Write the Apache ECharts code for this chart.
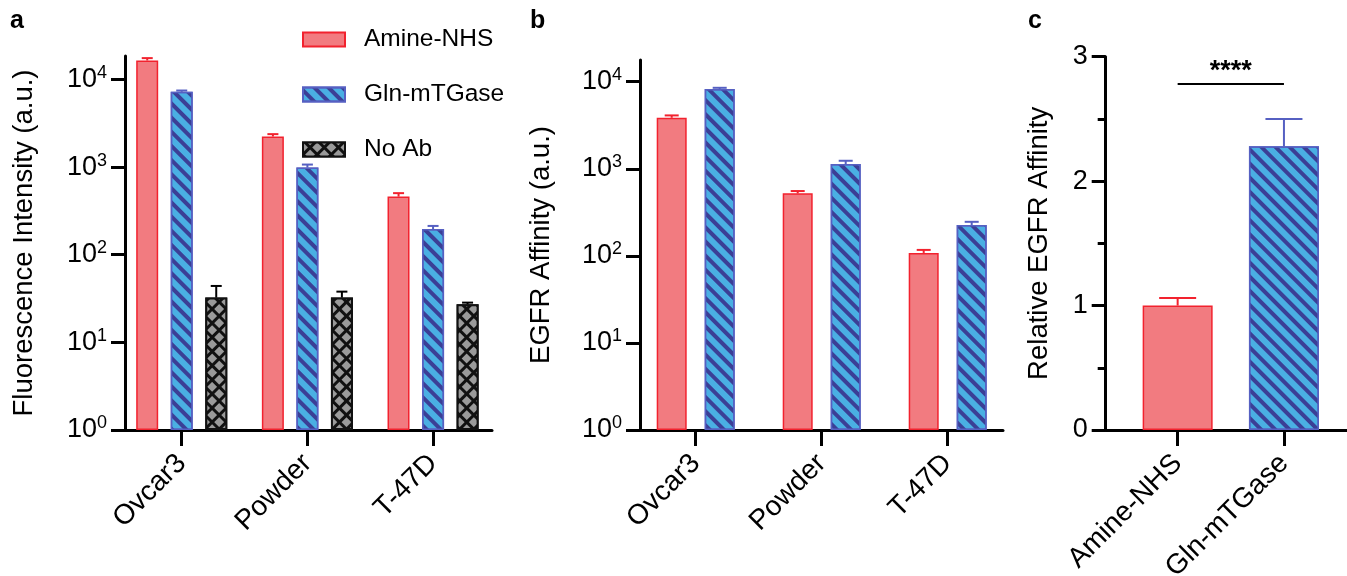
<!DOCTYPE html>
<html>
<head>
<meta charset="utf-8">
<script src="https://cdn.jsdelivr.net/npm/echarts@6/dist/echarts.min.js"></script>
<style>
    html, body { margin: 0; padding: 0; background: #fff; }
    #chart { width: 1347px; height: 576px; }
</style>
</head>
<body>
<div id="chart"></div>
<script>
// 数据
const cellLines = ['Ovcar3', 'Powder', 'T-47D'];
const logTicks = [1, 10, 100, 1000, 10000];

// a: Fluorescence Intensity
const fluorAmine = [16440, 2230, 460];
const fluorAmineErr = [1060, 145, 44];
const fluorGln = [7220, 986, 196];
const fluorGlnErr = [250, 82, 17];
const fluorNoAb = [32.4, 32.4, 27.2];
const fluorNoAbErr = [11.6, 5.5, 1.2];

// b: EGFR Affinity
const egfrAmine = [3850, 522, 108];
const egfrAmineErr = [250, 33, 9];
const egfrGln = [8220, 1132, 226];
const egfrGlnErr = [290, 104, 20];

// c: Relative EGFR Affinity
const relCategories = ['Amine-NHS', 'Gln-mTGase'];
const relValues = [1.0, 2.28];
const relErr = [0.06, 0.22];
const sigLevel = 2.78;

// 样式
const FONT = '"Liberation Sans", Arial, sans-serif';
const RED = '#f27b80';
const RED_LINE = '#f2222e';
const BLUE = '#4aafe3';
const BLUE_LINE = '#5660c2';
const STRIPE = '#3b3f96';

const STYLE_AMINE = { color: RED, borderColor: RED_LINE, borderWidth: 1.5 };
const STYLE_GLN = {
    color: BLUE, borderColor: BLUE_LINE, borderWidth: 1.5,
    decal: { symbol: 'rect', symbolSize: 1, color: STRIPE, dashArrayX: [1, 0], dashArrayY: [3.2, 6.0], rotation: Math.PI / 4 }
};
const STYLE_NOAB = {
    color: '#111', borderColor: '#111', borderWidth: 2,
    decal: { symbol: 'rect', symbolSize: 1, color: '#9a9a9a', dashArrayX: [6.2, 2.8], dashArrayY: [6.2, 2.8], rotation: Math.PI / 4 }
};

function logLabel(value) {
    let e = Math.round(Math.log10(value));
    return '{b|10}{s|' + e + '}';
}

// 只画轴线的外框坐标系
function frameAxes(grid, yOpt) {
    let x = {
        gridIndex: grid, type: 'value', min: 0, max: 1,
        axisLine: { show: true, lineStyle: { color: '#000', width: 3 } },
        axisTick: { show: false }, axisLabel: { show: false }, splitLine: { show: false }
    };
    let y = Object.assign({
        gridIndex: grid,
        axisLine: { show: true, lineStyle: { color: '#000', width: 3 } },
        splitLine: { show: false },
        nameLocation: 'middle',
        nameRotate: 90,
        nameTextStyle: { fontFamily: FONT, fontSize: 27.5, color: '#000' }
    }, yOpt);
    return { x: x, y: y };
}

// 放柱子的数据坐标系
function dataAxes(grid, cats, yOpt) {
    let x = {
        gridIndex: grid, type: 'category', data: cats,
        axisLine: { show: false },
        axisTick: { show: true, alignWithLabel: true, length: 16, lineStyle: { color: '#000', width: 3 } },
        axisLabel: { rotate: 45, margin: 29, fontFamily: FONT, fontSize: 28, color: '#000' }
    };
    let y = Object.assign({ gridIndex: grid, show: false }, yOpt);
    return { x: x, y: y };
}

function errorSeries(axisIdx, means, errs, offset, capWidth, color) {
    return {
        type: 'custom',
        xAxisIndex: axisIdx,
        yAxisIndex: axisIdx,
        z: 3,
        silent: true,
        data: means.map(function (m, i) { return [i, m, errs[i]]; }),
        renderItem: function (params, api) {
            let i = api.value(0);
            let base = api.coord([i, api.value(1)]);
            let top = api.coord([i, api.value(1) + api.value(2)]);
            let x = base[0] + offset;
            let c = Array.isArray(color) ? color[i] : color;
            let half = capWidth / 2;
            return {
                type: 'group',
                children: [
                    { type: 'line', shape: { x1: x, y1: base[1], x2: x, y2: top[1] }, style: { stroke: c, lineWidth: 2 } },
                    { type: 'line', shape: { x1: x - half, y1: top[1], x2: x + half, y2: top[1] }, style: { stroke: c, lineWidth: 2 } }
                ]
            };
        }
    };
}

const logY = function (max) {
    return {
        type: 'log', logBase: 10, min: 1, max: max,
        axisTick: { show: true, length: 14, lineStyle: { color: '#000', width: 3 }, customValues: logTicks },
        axisLabel: {
            customValues: logTicks, margin: 18, formatter: logLabel,
            rich: {
                b: { fontFamily: FONT, fontSize: 27, color: '#000', lineHeight: 31 },
                s: { fontFamily: FONT, fontSize: 18, color: '#000', verticalAlign: 'top', lineHeight: 19 }
            }
        }
    };
};

// 各面板坐标系
const aMax = 18500, bMax = 17750;
const fa = frameAxes(0, Object.assign(logY(aMax), { name: 'Fluorescence Intensity (a.u.)', nameGap: 87 }));
const da = dataAxes(1, cellLines, { type: 'log', logBase: 10, min: 1, max: aMax });
const fb = frameAxes(2, Object.assign(logY(bMax), { name: 'EGFR Affinity (a.u.)', nameGap: 85 }));
const db = dataAxes(3, cellLines, { type: 'log', logBase: 10, min: 1, max: bMax });
const fc = frameAxes(4, {
    type: 'value', min: 0, max: 3, interval: 1,
    name: 'Relative EGFR Affinity', nameGap: 52,
    axisTick: { show: true, length: 14, lineStyle: { color: '#000', width: 3 } },
    minorTick: { show: true, splitNumber: 2, length: 8, lineStyle: { color: '#000', width: 3 } },
    axisLabel: { margin: 18, fontFamily: FONT, fontSize: 27, color: '#000' }
});
const dc = dataAxes(5, relCategories, { type: 'value', min: 0, max: 3 });

const titleStyle = { fontFamily: FONT, fontSize: 25, fontWeight: 'bold', color: '#000' };

// 网格不因标签溢出而缩放
function makeGrid(left, top, width, height) {
    return { left: left, top: top, width: width, height: height, outerBoundsMode: 'none', containLabel: false };
}

const option = {
    animation: false,
    backgroundColor: '#fff',
    title: [
        { text: 'a', left: 10, top: 9, padding: 0, textStyle: titleStyle },
        { text: 'b', left: 530, top: 9, padding: 0, textStyle: titleStyle },
        { text: 'c', left: 1028, top: 9, padding: 0, textStyle: titleStyle }
    ],
    legend: {
        data: ['Amine-NHS', 'Gln-mTGase', 'No Ab'],
        orient: 'vertical',
        left: 297,
        top: 22,
        icon: 'rect',
        itemWidth: 42,
        itemHeight: 14,
        itemGap: 30,
        selectedMode: false,
        textStyle: { fontFamily: FONT, fontSize: 24.5, color: '#000', padding: [0, 0, 0, 14] }
    },
    grid: [
        makeGrid(125, 56, 367, 374),
        makeGrid(118.9, 56, 377, 374),
        makeGrid(640, 60, 363, 370),
        makeGrid(632.7, 60, 378, 370),
        makeGrid(1105.7, 56.7, 245, 373.3),
        makeGrid(1124.5, 56.7, 212.6, 373.3)
    ],
    xAxis: [fa.x, da.x, fb.x, db.x, fc.x, dc.x],
    yAxis: [fa.y, da.y, fb.y, db.y, fc.y, dc.y],
    series: [
        // a
        { name: 'Amine-NHS', type: 'bar', xAxisIndex: 1, yAxisIndex: 1, data: fluorAmine, barWidth: 22, barGap: '57%', itemStyle: STYLE_AMINE },
        { name: 'Gln-mTGase', type: 'bar', xAxisIndex: 1, yAxisIndex: 1, data: fluorGln, barWidth: 22, barGap: '57%', itemStyle: STYLE_GLN },
        { name: 'No Ab', type: 'bar', xAxisIndex: 1, yAxisIndex: 1, data: fluorNoAb, barWidth: 22, barGap: '57%', itemStyle: STYLE_NOAB },
        errorSeries(1, fluorAmine, fluorAmineErr, -34.5, 11, RED_LINE),
        errorSeries(1, fluorGln, fluorGlnErr, 0, 11, BLUE_LINE),
        errorSeries(1, fluorNoAb, fluorNoAbErr, 34.5, 11, '#000'),
        // b
        { name: 'Amine-NHS', type: 'bar', xAxisIndex: 3, yAxisIndex: 3, data: egfrAmine, barWidth: 30, barGap: '60%', itemStyle: STYLE_AMINE },
        { name: 'Gln-mTGase', type: 'bar', xAxisIndex: 3, yAxisIndex: 3, data: egfrGln, barWidth: 30, barGap: '60%', itemStyle: STYLE_GLN },
        errorSeries(3, egfrAmine, egfrAmineErr, -24, 14, RED_LINE),
        errorSeries(3, egfrGln, egfrGlnErr, 24, 14, BLUE_LINE),
        // c
        {
            name: 'Relative', type: 'bar', xAxisIndex: 5, yAxisIndex: 5, barWidth: 70,
            data: [
                { value: relValues[0], itemStyle: STYLE_AMINE },
                { value: relValues[1], itemStyle: STYLE_GLN }
            ],
            markLine: {
                silent: true,
                symbol: 'none',
                lineStyle: { color: '#000', width: 2, type: 'solid' },
                label: { show: true, position: 'middle', formatter: '****', fontFamily: FONT, fontSize: 27, fontWeight: 'bold', color: '#000', distance: -1 },
                data: [[{ coord: [relCategories[0], sigLevel] }, { coord: [relCategories[1], sigLevel] }]]
            }
        },
        errorSeries(5, relValues, relErr, 0, 37, [RED_LINE, BLUE_LINE])
    ]
};

const chart = echarts.init(document.getElementById('chart'), null, { renderer: 'canvas' });
chart.setOption(option);
</script>
</body>
</html>
